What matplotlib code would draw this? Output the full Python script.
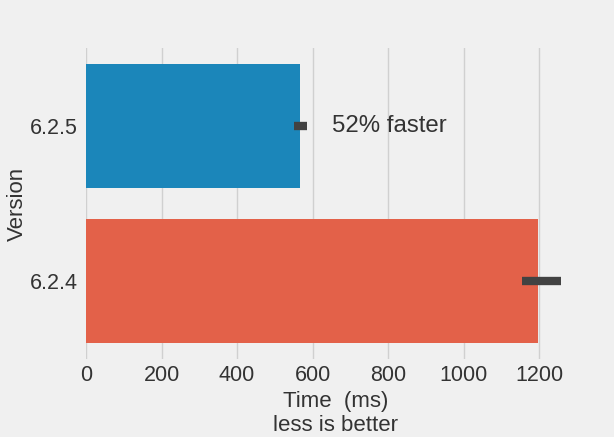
import matplotlib
matplotlib.use("Agg")
import matplotlib.pyplot as plt
import numpy as np
import colorsys
from matplotlib.colors import to_rgb

versions = ["6.2.5", "6.2.4"]
times = [567, 1197]
ci_low = [551, 1155]
ci_high = [585, 1258]
annotation = "52% faster"
xticks = [0, 200, 400, 600, 800, 1000, 1200]

def desaturate(color, prop):
    h, l, s = colorsys.rgb_to_hls(*to_rgb(color))
    return colorsys.hls_to_rgb(h, l, s * prop)

base_colors = ["#008fd5", "#fc4f30"]
colors = [desaturate(c, 0.75) for c in base_colors]

plt.rcParams['font.family'] = ['Liberation Sans', 'DejaVu Sans']
bg = "#f0f0f0"
fig = plt.figure(figsize=(6.14, 4.37), dpi=100, facecolor=bg)
ax = fig.add_axes([0.140, 0.1785, 0.813, 0.7115], facecolor=bg)

y = np.arange(len(versions))
ax.barh(y, times, height=0.8, color=colors, zorder=2)
xerr = np.array([[t - lo for t, lo in zip(times, ci_low)],
                 [hi - t for t, hi in zip(times, ci_high)]])
ax.errorbar(times, y, xerr=xerr, fmt="none", ecolor="#424242", elinewidth=6,
            capsize=0, zorder=3)

ax.set_yticks(y)
ax.set_yticklabels(versions)
ax.set_ylim(1.5, -0.5)
ax.set_xlim(0, max(ci_high) * 1.05)
ax.set_xticks(xticks)

ax.grid(axis="x", color="#d0d0d0", linewidth=1, zorder=0)
ax.grid(axis="y", visible=False)
ax.set_axisbelow(True)
for s in ax.spines.values():
    s.set_visible(False)
ax.tick_params(axis="both", length=0, labelsize=15.5, colors="#333333")
ax.tick_params(axis="x", pad=4)
ax.tick_params(axis="y", pad=6)

ax.set_xlabel("Time  (ms)\nless is better", fontsize=16, color="#333333", labelpad=4,
              linespacing=1.15)
ax.set_ylabel("Version", fontsize=16, color="#333333", labelpad=1)

ax.text(650, 0, annotation, fontsize=17.3, color="#333333", va="center", ha="left")

fig.savefig("out.png", dpi=100, facecolor=bg)
